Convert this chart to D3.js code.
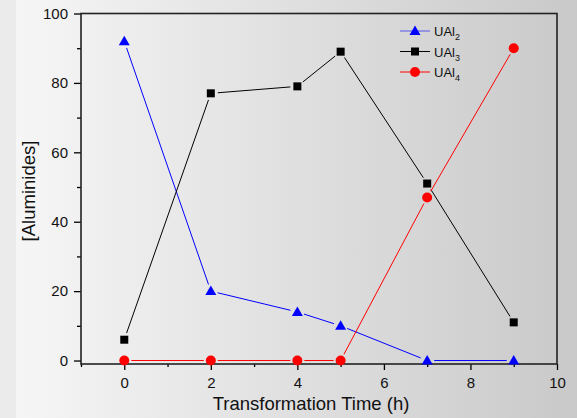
<!DOCTYPE html>
<html>
<head>
<meta charset="utf-8">
<script src="https://cdn.jsdelivr.net/npm/d3@7"></script>
<style>
  body { margin: 0; background: #fff; }
  svg { display: block; font-family: "Liberation Sans", Arial, sans-serif; }
</style>
</head>
<body>
<svg id="chart" width="577" height="418"></svg>
<script>
var times = [0, 2, 4, 5, 7, 9];
var ual2 = [92, 20, 14, 10, 0, 0];
var ual3 = [6, 77, 79, 89, 51, 11];
var ual4 = [0, 0, 0, 0, 47, 90];
var xTicks = [0, 2, 4, 6, 8, 10];
var yTicks = [0, 20, 40, 60, 80, 100];

var series = [
    {name: 'UAl', sub: '2', vals: ual2, color: '#0000ff', shape: 'tri'},
    {name: 'UAl', sub: '3', vals: ual3, color: '#000000', shape: 'sq'},
    {name: 'UAl', sub: '4', vals: ual4, color: '#ff0000', shape: 'circ'}
];

var svg = d3.select('#chart');
var W = 577, H = 418;

// background gradient
var defs = svg.append('defs');
var grad = defs.append('linearGradient').attr('id', 'bg')
    .attr('x1', '0%').attr('x2', '100%').attr('y1', '0%').attr('y2', '0%');
grad.append('stop').attr('offset', '0%').attr('stop-color', '#f7f7f7');
grad.append('stop').attr('offset', '100%').attr('stop-color', '#c9c9c9');
svg.append('rect').attr('width', W).attr('height', H).attr('fill', 'url(#bg)');
svg.append('rect').attr('width', 16).attr('height', H).attr('fill', '#ebebeb');

var scX = d3.scaleLinear().domain([-1, 10]).range([81, 557]);
var scY = d3.scaleLinear().domain([-1, 100]).range([364, 13.5]);

// axes
var xMinor = d3.range(-1, 11, 1).filter(d => xTicks.indexOf(d) < 0);
var yMinor = d3.range(10, 100, 20);

svg.append('g').attr('transform', 'translate(0,' + scY(-1) + ')')
    .call(d3.axisBottom(scX).tickValues(xTicks).tickSize(6).tickPadding(7).tickFormat(d3.format('d')));
svg.append('g').attr('transform', 'translate(0,' + scY(-1) + ')')
    .call(d3.axisBottom(scX).tickValues(xMinor).tickSize(3).tickFormat(''));
svg.append('g').attr('transform', 'translate(' + scX(-1) + ',0)')
    .call(d3.axisLeft(scY).tickValues(yTicks).tickSize(7).tickPadding(6).tickFormat(d3.format('d')));
svg.append('g').attr('transform', 'translate(' + scX(-1) + ',0)')
    .call(d3.axisLeft(scY).tickValues(yMinor).tickSize(4).tickFormat(''));

svg.selectAll('.domain').remove();
svg.selectAll('.tick line').attr('stroke', '#000').attr('stroke-width', 1.3);
svg.selectAll('.tick text').attr('font-size', 15).attr('fill', '#111')
    .attr('font-family', '"Liberation Sans", Arial, sans-serif');

// frame
svg.append('rect')
    .attr('x', scX(-1)).attr('y', scY(100))
    .attr('width', scX(10) - scX(-1)).attr('height', scY(-1) - scY(100))
    .attr('fill', 'none').attr('stroke', '#222').attr('stroke-width', 1.6);

// lines with small gaps at markers
var gap = 7;
series.forEach(function (s) {
    var g = svg.append('g');
    for (var i = 0; i < times.length - 1; i++) {
        var x1 = scX(times[i]), y1 = scY(s.vals[i]);
        var x2 = scX(times[i + 1]), y2 = scY(s.vals[i + 1]);
        var len = Math.hypot(x2 - x1, y2 - y1);
        if (len < 2 * gap) continue;
        var ux = (x2 - x1) / len, uy = (y2 - y1) / len;
        g.append('line')
            .attr('x1', x1 + ux * gap).attr('y1', y1 + uy * gap)
            .attr('x2', x2 - ux * gap).attr('y2', y2 - uy * gap)
            .attr('stroke', s.color).attr('stroke-width', 1);
    }
});

function marker(sel, shape, color, x, y) {
    if (shape === 'tri') {
        sel.append('path')
            .attr('d', 'M' + x + ',' + (y - 5.5) + 'L' + (x + 5.5) + ',' + (y + 4) + 'L' + (x - 5.5) + ',' + (y + 4) + 'Z')
            .attr('fill', color);
    } else if (shape === 'sq') {
        sel.append('rect').attr('x', x - 4).attr('y', y - 4).attr('width', 8).attr('height', 8).attr('fill', color);
    } else {
        sel.append('circle').attr('cx', x).attr('cy', y).attr('r', 5).attr('fill', color);
    }
}

series.forEach(function (s) {
    var g = svg.append('g');
    times.forEach(function (t, i) {
        marker(g, s.shape, s.color, scX(t), scY(s.vals[i]));
    });
});

// legend
var lg = svg.append('g').attr('transform', 'translate(400,31)');
series.forEach(function (s, i) {
    var y = i * 20.5;
    lg.append('line').attr('x1', 0).attr('x2', 30).attr('y1', y).attr('y2', y)
        .attr('stroke', s.color).attr('stroke-width', 1).attr('opacity', s.shape === 'tri' ? 0.6 : 1);
    marker(lg, s.shape, s.color, 15, y);
    var t = lg.append('text').attr('x', 34).attr('y', y + 5).attr('font-size', 13).attr('fill', '#111');
    t.append('tspan').text(s.name);
    t.append('tspan').attr('font-size', 9).attr('dy', 4).text(s.sub);
});

// axis titles
svg.append('text').attr('x', 311).attr('y', 410).attr('text-anchor', 'middle')
    .attr('font-size', 18.5).attr('fill', '#111').text('Transformation Time (h)');
svg.append('text').attr('transform', 'translate(35,191) rotate(-90)').attr('text-anchor', 'middle')
    .attr('font-size', 18.5).attr('fill', '#111').text('[Aluminides]');
</script>
</body>
</html>
